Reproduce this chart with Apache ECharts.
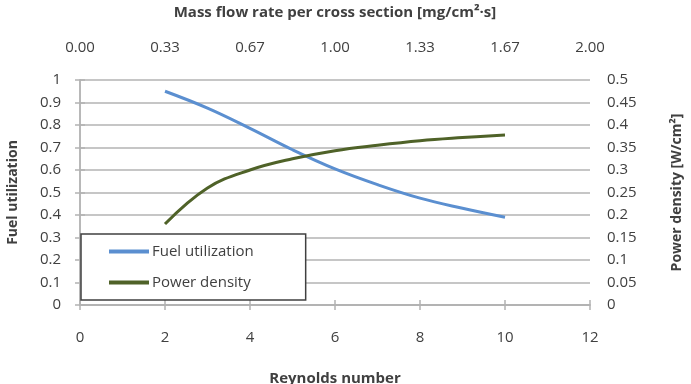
<!DOCTYPE html>
<html>
<head>
<meta charset="utf-8">
<script src="https://cdn.jsdelivr.net/npm/echarts@6/dist/echarts.min.js"></script>
<style>
  html, body { margin: 0; padding: 0; background: #fff; }
  #chart { width: 691px; height: 384px; }
</style>
</head>
<body>
<div id="chart"></div>
<script>
  // values
  var reynolds = [2, 3, 4, 5, 6, 7, 8, 9, 10];
  var fuelUtil = [0.95, 0.875, 0.785, 0.69, 0.605, 0.535, 0.475, 0.43, 0.39];
  var powerDensity = [0.18, 0.26, 0.30, 0.325, 0.343, 0.355, 0.365, 0.372, 0.378];
  var topTickLabels = ['0.00', '0.33', '0.67', '1.00', '1.33', '1.67', '2.00'];

  var txt = '#404040';
  var lineGray = '#b3b3b3';
  var font = '"Open Sans", "Liberation Sans", sans-serif';

  var myChart = echarts.init(document.getElementById('chart'));

  function pairs(ys) {
    return reynolds.map(function (x, i) { return [x, ys[i]]; });
  }

  var axisCommon = {
    axisLine: { show: true, lineStyle: { color: lineGray, width: 1.5 } },
    axisTick: { show: true, length: 5, lineStyle: { color: lineGray, width: 1.5 } },
    splitLine: { show: false }
  };

  var option = {
    animation: false,
    backgroundColor: '#fff',
    grid: { left: 80, right: 101, top: 80, bottom: 79, outerBoundsMode: 'none', containLabel: false },
    legend: {
      orient: 'vertical',
      left: 81,
      top: 234,
      data: ['Fuel utilization', 'Power density'],
      icon: 'rect',
      itemWidth: 40,
      itemHeight: 4,
      itemGap: 16,
      padding: [10, 52, 10, 28],
      borderColor: '#404040',
      borderWidth: 1.5,
      backgroundColor: '#fff',
      textStyle: { color: txt, fontSize: 15, fontFamily: font, padding: [0, 0, 0, -2] }
    },
    xAxis: [
      Object.assign({}, axisCommon, {
        type: 'value',
        position: 'bottom',
        min: 0, max: 12, interval: 2,
        name: 'Reynolds number',
        nameLocation: 'middle',
        nameGap: 66,
        nameTextStyle: { color: txt, fontSize: 15, fontWeight: 'bold', fontFamily: font },
        axisLabel: { color: txt, fontSize: 15, fontFamily: font, margin: 25 }
      }),
      Object.assign({}, axisCommon, {
        type: 'value',
        position: 'top',
        min: 0, max: 12, interval: 2,
        name: 'Mass flow rate per cross section [mg/cm²·s]',
        nameLocation: 'middle',
        nameGap: 60,
        nameTextStyle: { color: txt, fontSize: 15, fontWeight: 'bold', fontFamily: font },
        axisLabel: {
          color: txt, fontSize: 15, fontFamily: font, margin: 25,
          formatter: function (v) { return topTickLabels[Math.round(v / 2)]; }
        }
      })
    ],
    yAxis: [
      Object.assign({}, axisCommon, {
        type: 'value',
        position: 'left',
        min: 0, max: 1, interval: 0.1,
        name: 'Fuel utilization',
        nameLocation: 'middle',
        nameGap: 60,
        nameTextStyle: { color: txt, fontSize: 14, fontWeight: 'bold', fontFamily: font },
        axisLabel: { color: txt, fontSize: 15, fontFamily: font, margin: 19 },
        splitLine: { show: true, lineStyle: { color: lineGray, width: 1.5 } }
      }),
      Object.assign({}, axisCommon, {
        type: 'value',
        position: 'right',
        min: 0, max: 0.5, interval: 0.05,
        name: 'Power density [W/cm²]',
        nameLocation: 'middle',
        nameGap: 80,
        nameTextStyle: { color: txt, fontSize: 14, fontWeight: 'bold', fontFamily: font },
        axisLabel: { color: txt, fontSize: 15, fontFamily: font, margin: 17 }
      })
    ],
    series: [
      {
        name: 'Fuel utilization',
        type: 'line',
        xAxisIndex: 0,
        yAxisIndex: 0,
        smooth: 0.4,
        showSymbol: false,
        data: pairs(fuelUtil),
        itemStyle: { color: '#5b8fd0' },
        lineStyle: { color: '#5b8fd0', width: 3 }
      },
      {
        name: 'Power density',
        type: 'line',
        xAxisIndex: 0,
        yAxisIndex: 1,
        smooth: 0.4,
        showSymbol: false,
        data: pairs(powerDensity),
        itemStyle: { color: '#4f6228' },
        lineStyle: { color: '#4f6228', width: 3 }
      }
    ]
  };

  myChart.setOption(option);
</script>
</body>
</html>
